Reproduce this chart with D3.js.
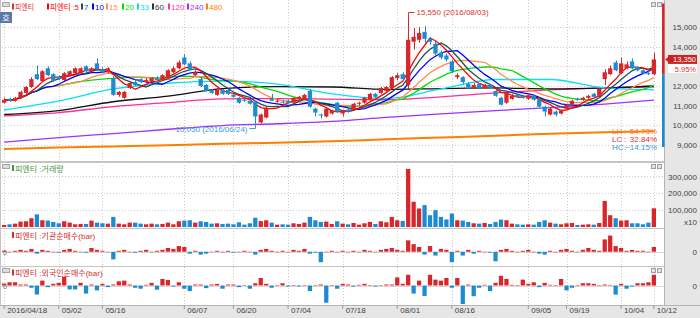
<!DOCTYPE html>
<html lang="ko">
<head>
<meta charset="UTF-8">
<title>피엔티</title>
<style>
body { margin: 0; background: #fff; }
svg { display: block; font-family: "Liberation Sans", "Noto Sans CJK KR", sans-serif; font-size: 8px; }
</style>
</head>
<body>
<script src="https://cdn.jsdelivr.net/npm/d3@7/dist/d3.min.js"></script>
<script>
// 거래일
var dates = [
"2016/04/18","2016/04/19","2016/04/20","2016/04/21","2016/04/22","2016/04/25","2016/04/26","2016/04/27","2016/04/28","2016/04/29",
"2016/05/02","2016/05/03","2016/05/04","2016/05/09","2016/05/10","2016/05/11","2016/05/12","2016/05/13","2016/05/16","2016/05/17",
"2016/05/18","2016/05/19","2016/05/20","2016/05/23","2016/05/24","2016/05/25","2016/05/26","2016/05/27","2016/05/30","2016/05/31",
"2016/06/01","2016/06/02","2016/06/03","2016/06/07","2016/06/08","2016/06/09","2016/06/10","2016/06/13","2016/06/14","2016/06/15",
"2016/06/16","2016/06/17","2016/06/20","2016/06/21","2016/06/22","2016/06/23","2016/06/24","2016/06/27","2016/06/28","2016/06/29",
"2016/06/30","2016/07/01","2016/07/04","2016/07/05","2016/07/06","2016/07/07","2016/07/08","2016/07/11","2016/07/12","2016/07/13",
"2016/07/14","2016/07/15","2016/07/18","2016/07/19","2016/07/20","2016/07/21","2016/07/22","2016/07/25","2016/07/26","2016/07/27",
"2016/07/28","2016/07/29","2016/08/01","2016/08/02","2016/08/03","2016/08/04","2016/08/05","2016/08/08","2016/08/09","2016/08/10",
"2016/08/11","2016/08/12","2016/08/16","2016/08/17","2016/08/18","2016/08/19","2016/08/22","2016/08/23","2016/08/24","2016/08/25",
"2016/08/26","2016/08/29","2016/08/30","2016/08/31","2016/09/01","2016/09/02","2016/09/05","2016/09/06","2016/09/07","2016/09/08",
"2016/09/09","2016/09/12","2016/09/13","2016/09/19","2016/09/20","2016/09/21","2016/09/22","2016/09/23","2016/09/26","2016/09/27",
"2016/09/28","2016/09/29","2016/09/30","2016/10/04","2016/10/05","2016/10/06","2016/10/07","2016/10/10","2016/10/11","2016/10/12"];

// 시가 / 고가 / 저가 / 종가
var open = [11150,11350,11250,11400,11650,11950,12600,12250,12900,12600, 12450,12300,12550,12650,12650,13000,12750,13150,12850,12700,
 12400,11550,11400,11900,12200,12350,12200,12250,12400,12300, 12400,12700,12900,13450,13150,12550,12350,12050,11800,11550,
 11800,11800,11550,11400,11300,11250,11200,10150,10400,11350, 11250,11200,11250,11150,11350,11350,11750,10850,10550,10450,
 10600,11150,10600,10800,10800,11100,11150,11300,11600,11650, 11750,11900,12400,12600,12050,14250,14350,14750,14400,14150,
 13700,13550,13250,12450,12450,12100,11900,12100,11900,12050, 11750,11400,11150,11350,11550,11500,11350,11500,11300,10950,
 10550,10700,10600,10850,11050,11350,11300,11400,11600,11500, 12350,12600,13200,12650,12900,13250,12950,12800,12650,12600];
var high = [11400,11400,11450,11750,12000,12450,13050,12800,13000,12650, 12550,12700,12800,12950,12950,13050,12950,13400,12950,12950,
 12500,11750,11750,12200,12350,12400,12400,12450,12500,12600, 12850,13000,13300,13620,13250,12800,12450,12100,11850,11900,
 11850,11850,11600,11450,11400,11300,11250,10600,10950,11600, 11350,11300,11300,11450,11500,11600,11850,10900,10600,10900,
 10800,11200,10800,10900,11150,11200,11450,11650,11650,11950, 12000,12500,12650,12700,15550,14950,15000,15050,14500,14300,
 13800,13650,13350,12650,12500,12200,12150,12150,12100,12100, 11800,11450,11750,11600,11600,11550,11550,11550,11350,11000,
 10900,10750,10800,11100,11300,11400,11450,11550,11650,11900, 12850,13050,13300,13450,13250,13400,13000,12850,12750,13700];
var low = [11100,11200,11200,11350,11600,11900,12300,12200,12500,12200, 12300,12250,12500,12600,12600,12700,12700,12800,12650,12650,
 11500,11450,11350,11850,12000,12150,12150,12200,12250,12250, 12350,12650,12850,13050,12800,12500,11950,11700,11600,11500,
 11550,11550,11400,11100,11200,11050,10050,10100,10350,11250, 11150,11100,11100,11100,11300,11300,10900,10450,10350,10400,
 10550,10650,10450,10650,10750,11000,11100,11250,11400,11600, 11700,11850,12300,12300,11850,13850,14200,14200,14100,13550,
 13350,13250,12650,12350,12100,11850,11850,11850,11850,11850, 11450,11000,11100,11300,11400,11350,11300,11250,10900,10450,
 10500,10450,10550,10800,11000,11250,11250,11350,11400,11450, 12050,12550,12750,12600,12850,12850,12750,12600,12550,12550];
var close = [11300,11250,11400,11700,11950,12350,12350,12750,12550,12250, 12350,12650,12750,12900,12900,12750,12900,12850,12700,12900,
 11550,11700,11700,12150,12050,12200,12300,12400,12300,12550, 12800,12900,13200,13100,12850,12700,12000,11750,11650,11800,
 11600,11600,11450,11150,11250,11100,10450,10550,10900,11250, 11250,11150,11150,11400,11450,11550,10950,10650,10500,10850,
 10750,10700,10750,10700,11100,11150,11400,11600,11450,11900, 11950,12450,12550,12350,14350,14500,14700,14400,14250,13650,
 13450,13350,12750,12550,12200,11950,12050,11900,12050,11900, 11500,11050,11700,11500,11450,11400,11500,11300,10950,10700,
 10850,10550,10750,11050,11250,11300,11400,11500,11450,11850, 12700,12900,12800,13150,13100,12900,12800,12650,12600,13350];

// 거래량
var volume = [12000,16000,20000,32000,34000,52000,75000,40000,38000,30000, 22000,34000,26000,16000,18000,18000,38000,26000,22000,20000,
 60000,20000,16000,26000,26000,20000,16000,20000,16000,18000, 26000,16000,34000,38000,40000,26000,34000,30000,20000,22000,
 18000,20000,16000,28000,14000,22000,55000,35000,40000,26000, 14000,16000,14000,22000,18000,26000,60000,40000,30000,32000,
 18000,34000,20000,16000,24000,14000,22000,30000,18000,34000, 28000,60000,40000,36000,345000,150000,110000,130000,70000,100000,
 60000,45000,80000,40000,38000,30000,22000,20000,24000,18000, 30000,44000,40000,20000,16000,14000,16000,14000,30000,40000,
 26000,20000,16000,22000,24000,12000,14000,16000,14000,24000, 155000,70000,52000,38000,40000,22000,22000,16000,26000,111000];

// 기관 순매수
var inst = [1,0,1,2,1,3,-2,2,1,0, -1,2,3,1,0,-1,4,2,1,0,
 -8,1,2,0,-1,1,2,0,1,2, 4,3,6,5,-2,1,-3,-2,0,1,
 0,1,-1,0,1,0,-3,2,3,1, 0,1,0,2,1,3,-2,-1,-11,0,
 1,0,1,0,1,0,2,1,0,2, 3,4,2,1,12,8,5,-3,6,-4,
 3,2,-11,1,-4,2,-2,1,0,-1, -10,2,3,1,0,1,2,0,-2,-3,
 1,0,2,3,1,0,2,4,2,1, 13,17,6,4,1,2,1,1,0,5];

// 외국인 순매수
var foreign = [2,3.3,3.3,1,1,-2.3,-9.3,5,-1.7,1.7, 2.7,9,-4,-4,2.7,-8.3,1,-5,1.7,-1.7,
 1,4.3,5,1,-2.3,-3.3,0.7,2.7,-4.3,6.7, 5.7,-1,3.3,-3.3,-5.7,1,1,-2.7,1,1.7,
 -3.3,1,1,-1.7,0.5,-3.3,2.3,7.7,1.7,-2.3, 0,2.3,-1,0,-1,0,-5.7,0,1,-17.7,
 0,-3.3,1.7,1,-1,0.7,1.7,0,-1,0, 1,1,8.3,1.7,11,-8.3,5,-10.7,11,6,
 5,7.7,-2.3,7.7,-19,1,-11,-2.3,0.7,-5.7, 2.7,10,6.7,0.7,0,6,1.7,3.3,-1.7,2.7,
 0.7,0,6.7,-5,-2.3,0,2.3,2.3,1.7,0, 1,0,-9.3,1.7,-3.3,-1,2.3,2.3,3.3,11];

// 장기 이동평균 (화면에서 읽은 값)
var maIdx = [0,10,20,30,40,50,60,70,80,90,100,110,119];
var ma33  = [10780,11240,11850,12140,12250,12100,11600,11370,11850,12330,12330,11900,11800];
var ma60  = [10550,10750,11200,11480,11870,11970,11950,11830,11870,11900,11850,11900,12000];
var ma120 = [10480,10650,10950,11150,11350,11360,11330,11300,11450,11650,11800,11900,11950];
var ma240 = [9150,9380,9580,9800,9990,10080,10200,10400,10580,10750,10900,11080,11280];
var ma480 = [8800,8870,8930,8990,9060,9120,9190,9290,9380,9470,9570,9650,9700];

var priceTicks = [9000,10000,11000,12000,13000,14000,15000];
var volTicks = [100000,200000,300000];
var tickDates = ["2016/04/18","2016/05/02","2016/05/16","2016/06/07","2016/06/20","2016/07/04","2016/07/18","2016/08/01","2016/08/16","2016/09/05","2016/09/19","2016/10/04","2016/10/12"];
var tickLabels = ["2016/04/18","05/02","05/16","06/07","06/20","07/04","07/18","08/01","08/16","09/05","09/19","10/04","10/12"];

var W = 700, H = 318;
var plotL = 2, plotR = 664;
var red = "#d8262b", blue = "#1d8bd1";

var svg = d3.select("body").append("svg").attr("width", W).attr("height", H);

// 배경
svg.append("rect").attr("width", W).attr("height", H).attr("fill", "#fff");
svg.append("rect").attr("x", plotR + 1).attr("y", 0).attr("width", W - plotR - 1).attr("height", H).attr("fill", "#e6e6e6");
svg.append("rect").attr("x", 0).attr("y", 305).attr("width", W).attr("height", 13).attr("fill", "#e6e6e6");

var x = d3.scaleBand().domain(dates).range([plotL, 656]).paddingInner(0.22);
var bw = x.bandwidth();
function cx(d) { return x(d) + bw / 2; }

var y  = d3.scaleLinear().domain([9000, 15000]).range([145, 27]);
var yv = d3.scaleLinear().domain([0, 380000]).range([227, 163]);
var yi = d3.scaleLinear().domain([-15, 25]).range([266, 228]);
var yf = d3.scaleLinear().domain([-20, 20]).range([305, 266]);

// 격자
var grid = svg.append("g").attr("stroke", "#cccccc").attr("stroke-dasharray", "1,2");
grid.selectAll(".gh").data(priceTicks).enter().append("line")
	.attr("x1", plotL).attr("x2", plotR)
	.attr("y1", function(d) { return Math.round(y(d)) + 0.5; })
	.attr("y2", function(d) { return Math.round(y(d)) + 0.5; });
grid.selectAll(".gv").data(volTicks).enter().append("line")
	.attr("x1", plotL).attr("x2", plotR)
	.attr("y1", function(d) { return Math.round(yv(d)) + 0.5; })
	.attr("y2", function(d) { return Math.round(yv(d)) + 0.5; });
grid.selectAll(".gx").data(tickDates).enter().append("line")
	.attr("x1", function(d) { return Math.round(cx(d)) + 0.5; })
	.attr("x2", function(d) { return Math.round(cx(d)) + 0.5; })
	.attr("y1", 0).attr("y2", 305);
[yi(0), yf(0)].forEach(function(v) {
	svg.append("line").attr("x1", plotL).attr("x2", plotR)
		.attr("y1", Math.round(v) + 0.5).attr("y2", Math.round(v) + 0.5)
		.attr("stroke", "#d8d8d8");
});

// 패널 경계
[161, 162, 228, 266].forEach(function(v) {
	svg.append("line").attr("x1", 0).attr("x2", plotR).attr("y1", v + 0.5).attr("y2", v + 0.5).attr("stroke", "#c4c4c4");
});
svg.append("line").attr("x1", 0).attr("x2", W).attr("y1", 305.5).attr("y2", 305.5).attr("stroke", "#b4b4b4");
svg.append("line").attr("x1", plotR + 0.5).attr("x2", plotR + 0.5).attr("y1", 0).attr("y2", 305).attr("stroke", "#b4b4b4");
svg.append("line").attr("x1", 0.5).attr("x2", 0.5).attr("y1", 0).attr("y2", 305).attr("stroke", "#c4c4c4");

// 이동평균선
function sma(n) {
	return close.map(function(c, i) { return d3.mean(close.slice(Math.max(0, i - n + 1), i + 1)); });
}
var lineAll = d3.line().x(function(d, i) { return cx(dates[i]); }).y(function(d) { return y(d); });
var lineSparse = d3.line().curve(d3.curveMonotoneX)
	.x(function(d, i) { return cx(dates[maIdx[i]]); }).y(function(d) { return y(d); });

var ma = svg.append("g").attr("fill", "none").attr("stroke-width", 1.3);
ma.append("path").attr("d", lineSparse(ma480)).attr("stroke", "#ff7f00").attr("stroke-width", 2);
ma.append("path").attr("d", lineSparse(ma240)).attr("stroke", "#9933ff");
ma.append("path").attr("d", lineSparse(ma120)).attr("stroke", "#ff2f8f");
ma.append("path").attr("d", lineSparse(ma60)).attr("stroke", "#111111");
ma.append("path").attr("d", lineSparse(ma33)).attr("stroke", "#00e0ff");
ma.append("path").attr("d", lineAll(sma(20))).attr("stroke", "#00dd00");
ma.append("path").attr("d", lineAll(sma(15))).attr("stroke", "#ff8c4a");
ma.append("path").attr("d", lineAll(sma(10))).attr("stroke", "#0000ff");
ma.append("path").attr("d", lineAll(sma(7))).attr("stroke", "#1b5656");
ma.append("path").attr("d", lineAll(sma(5))).attr("stroke", "#ff0000");

// 캔들
var candles = svg.append("g");
dates.forEach(function(d, i) {
	var col = close[i] >= open[i] ? red : blue;
	var xc = Math.round(cx(d)) + 0.5;
	candles.append("line").attr("x1", xc).attr("x2", xc)
		.attr("y1", y(high[i])).attr("y2", y(low[i])).attr("stroke", col);
	var top = Math.min(y(open[i]), y(close[i]));
	candles.append("rect").attr("x", x(d)).attr("width", bw)
		.attr("y", top).attr("height", Math.max(1, Math.abs(y(open[i]) - y(close[i]))))
		.attr("fill", col);
});

// 거래량 막대
svg.append("g").selectAll("rect").data(volume).enter().append("rect")
	.attr("x", function(d, i) { return x(dates[i]); })
	.attr("width", bw)
	.attr("y", function(d) { return yv(d); })
	.attr("height", function(d) { return yv(0) - yv(d); })
	.attr("fill", function(d, i) { return close[i] >= open[i] ? red : blue; });

// 순매수 막대
function netBars(data, sc) {
	svg.append("g").selectAll("rect").data(data).enter().append("rect")
		.attr("x", function(d, i) { return x(dates[i]); })
		.attr("width", bw)
		.attr("y", function(d) { return Math.min(sc(d), sc(0)); })
		.attr("height", function(d) { return Math.max(0.5, Math.abs(sc(d) - sc(0))); })
		.attr("fill", function(d) { return d >= 0 ? red : blue; });
}
netBars(inst, yi);
netBars(foreign, yf);

// 최고가 / 최저가 표시
var hiI = d3.maxIndex(high), loI = d3.minIndex(low);
var fmt = d3.format(",");
var hx = Math.round(cx(dates[hiI])) + 0.5;
svg.append("path").attr("d", "M" + hx + "," + y(high[hiI]) + "V12.5H" + (hx + 6))
	.attr("fill", "none").attr("stroke", "#e03030");
svg.append("text").attr("x", hx + 8).attr("y", 15).attr("fill", "#e03030")
	.text(fmt(high[hiI]) + " (" + dates[hiI] + ")");
var lx = Math.round(cx(dates[loI])) + 0.5;
svg.append("path").attr("d", "M" + lx + "," + y(low[loI]) + "V128.5H" + (lx - 6))
	.attr("fill", "none").attr("stroke", "#3b9bd8");
svg.append("text").attr("x", lx - 8).attr("y", 131.5).attr("text-anchor", "end").attr("fill", "#3b9bd8")
	.text(fmt(low[loI]) + " (" + dates[loI] + ")");

// 오른쪽 위치 막대
var last = close[close.length - 1], prev = close[close.length - 2];
svg.append("rect").attr("x", 662).attr("width", 2.5).attr("y", y(16200)).attr("height", y(prev) - y(16200)).attr("fill", red);
svg.append("rect").attr("x", 662).attr("width", 2.5).attr("y", y(prev)).attr("height", y(8900) - y(prev)).attr("fill", blue);

// LH / LC / HC
var pct = d3.format(".2f");
var stats = [
	{ k: "LH", v: high[hiI] / low[loI] - 1, c: "#f07a20" },
	{ k: "LC", v: last / low[loI] - 1, c: "#e03030" },
	{ k: "HC", v: last / high[hiI] - 1, c: "#3b9bd8" }];
stats.forEach(function(s, i) {
	var by = 134 + i * 8;
	svg.append("text").attr("x", 612).attr("y", by).attr("fill", s.c).text(s.k);
	svg.append("text").attr("x", 624).attr("y", by).attr("fill", s.c).text(":");
	svg.append("text").attr("x", 657).attr("y", by).attr("text-anchor", "end").attr("fill", s.c).text(pct(s.v * 100) + "%");
});

// 오른쪽 축
function rightAxis(sc, ticks, format) {
	var g = svg.append("g").attr("transform", "translate(697,0)")
		.call(d3.axisRight(sc).tickValues(ticks).tickFormat(format).tickSize(0).tickPadding(0));
	g.select(".domain").remove();
	g.selectAll("text").attr("x", 0).attr("text-anchor", "end").attr("fill", "#444")
		.style("font-size", "8px").style("font-family", "Liberation Sans, sans-serif");
	return g;
}
var ly = y(last);
// 현재가 상자에 가려지는 눈금은 그리지 않음
rightAxis(y, priceTicks.filter(function(v) { return Math.abs(y(v) - (ly + 4)) > 11; }), fmt);
rightAxis(yv, volTicks, fmt);
rightAxis(yi, [0], fmt);
rightAxis(yf, [0], fmt);
svg.append("text").attr("x", 697).attr("y", 225).attr("text-anchor", "end").attr("fill", "#444").text("x10");

// 현재가 표시
svg.append("path").attr("d", "M665," + ly + "L669," + (ly - 3) + "L669," + (ly + 3) + "Z").attr("fill", "#c8231f");
svg.append("rect").attr("x", 668).attr("y", ly - 4.5).attr("width", 29).attr("height", 9).attr("fill", "#c8231f");
svg.append("text").attr("x", 696).attr("y", ly + 2.6).attr("text-anchor", "end").attr("fill", "#fff")
	.style("font-size", "7.5px").text(fmt(last));
svg.append("rect").attr("x", 668).attr("y", ly + 4.5).attr("width", 29).attr("height", 9).attr("fill", "#fff");
svg.append("text").attr("x", 696).attr("y", ly + 12.8).attr("text-anchor", "end").attr("fill", "#e03030")
	.style("font-size", "7.5px").text(pct((last / prev - 1) * 100) + "%");

// 아래 날짜 축
var xa = svg.append("g").attr("transform", "translate(0,305)")
	.call(d3.axisBottom(x).tickValues(tickDates).tickSize(4).tickPadding(0)
		.tickFormat(function(d, i) { return tickLabels[i]; }));
xa.select(".domain").remove();
xa.selectAll("line").attr("stroke", "#999");
xa.selectAll("text").attr("text-anchor", "start").attr("x", 3).attr("y", 2.5).attr("dy", "0.71em")
	.attr("fill", "#444").style("font-size", "8px").style("font-family", "Liberation Sans, sans-serif");

// 범례
var legend = [
	{ t: "피엔티", c: "#e03030", x: 12, w: 19 },
	{ t: "피엔티 :5", c: "#ff0000", x: 47, w: 29 },
	{ t: "7", c: "#1b5656", x: 81 },
	{ t: "10", c: "#0000ff", x: 92 },
	{ t: "15", c: "#ff8c4a", x: 106 },
	{ t: "20", c: "#00dd00", x: 122 },
	{ t: "33", c: "#00d8ff", x: 137 },
	{ t: "60", c: "#333333", x: 152 },
	{ t: "120", c: "#ff3399", x: 168 },
	{ t: "240", c: "#9933ff", x: 187 },
	{ t: "480", c: "#ff8000", x: 206 }];
legend.forEach(function(l) {
	svg.append("rect").attr("x", l.x).attr("y", 3.5).attr("width", 2).attr("height", 6).attr("fill", l.c);
	var t = svg.append("text").attr("x", l.x + 3).attr("y", 10).attr("fill", l.c).text(l.t);
	if (l.w) t.attr("textLength", l.w).attr("lengthAdjust", "spacingAndGlyphs");
});

function panelLabel(t, c, by) {
	svg.append("rect").attr("x", 12).attr("y", by - 6.5).attr("width", 2).attr("height", 6).attr("fill", c);
	svg.append("text").attr("x", 15).attr("y", by).attr("fill", c).text(t);
}
panelLabel("피엔티 :거래량", "#3f9a3f", 171.5);
panelLabel("피엔티 :기관순매수(bar)", "#d03030", 238.5);
panelLabel("피엔티 :외국인순매수(bar)", "#d03030", 276);

// 좌측 0 표시
[yi(0), yf(0)].forEach(function(v) {
	svg.append("text").attr("x", 3).attr("y", v + 3).attr("fill", "#666").style("font-size", "7px").text("0");
});

// 패널 손잡이와 버튼
[2, 164, 268].forEach(function(v) {
	svg.append("rect").attr("x", 2.5).attr("y", v + 0.5).attr("width", 7).attr("height", 4)
		.attr("fill", "#dcdcdc").attr("stroke", "#a8a8a8");
	svg.append("rect").attr("x", 651.5).attr("y", v + 0.5).attr("width", 4).attr("height", 4)
		.attr("fill", "#e4e4e4").attr("stroke", "#a0a0a0");
	svg.append("rect").attr("x", 657.5).attr("y", v + 0.5).attr("width", 4).attr("height", 4)
		.attr("fill", "#e4e4e4").attr("stroke", "#a0a0a0");
});
svg.append("rect").attr("x", 0).attr("y", 12).attr("width", 12).attr("height", 11).attr("fill", "#5a7aa8");
svg.append("text").attr("x", 6).attr("y", 20.5).attr("text-anchor", "middle").attr("fill", "#fff").text("호");
</script>
</body>
</html>
